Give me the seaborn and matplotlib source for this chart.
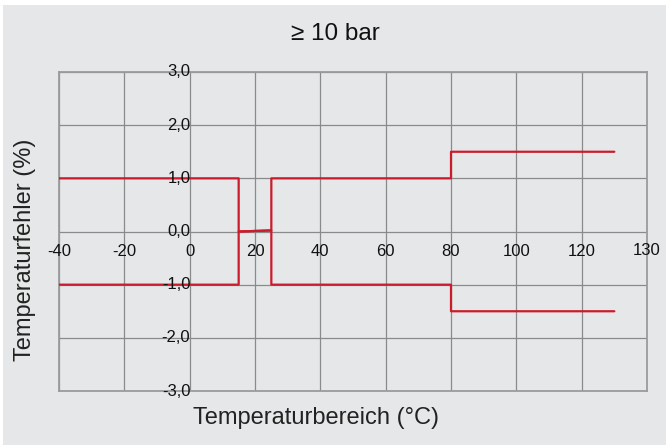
import pandas as pd
import matplotlib
matplotlib.use("Agg")
import matplotlib.pyplot as plt
import seaborn as sns
from matplotlib.patches import Rectangle

# Error band limits
temp_upper = [-40, 15, 15, 25, 25, 80, 80, 130]
err_upper = [1.0, 1.0, 0.0, 0.02, 1.0, 1.0, 1.5, 1.5]
temp_lower = [-40, 15, 15, 25, 25, 80, 80, 130]
err_lower = [-1.0, -1.0, 0.0, 0.02, -1.0, -1.0, -1.5, -1.5]

x_ticks = [-40, -20, 0, 20, 40, 60, 80, 100, 120, 140]
x_labels = ["-40", "-20", "0", "20", "40", "60", "80", "100", "120", "130"]
y_ticks = [-3, -2, -1, 0, 1, 2, 3]
y_labels = ["-3,0", "-2,0", "-1,0", "0,0", "1,0", "2,0", "3,0"]

bg = "#e6e7e8"
red = "#cc1b2c"
grid = "#8a8a8a"

sns.set_theme(style="white")
plt.rcParams["font.family"] = ["Liberation Sans", "DejaVu Sans"]

df = pd.concat([
    pd.DataFrame({"temp": temp_upper, "err": err_upper, "band": "upper"}),
    pd.DataFrame({"temp": temp_lower, "err": err_lower, "band": "lower"}),
])

fig = plt.figure(figsize=(6.66, 4.45), dpi=100, facecolor="white")
fig.patches.append(Rectangle((3 / 666, 0), 1, 1 - 5 / 445, transform=fig.transFigure,
                             facecolor=bg, edgecolor="none", zorder=-1))
ax = fig.add_axes([59 / 666, 1 - 391 / 445, 588 / 666, 319 / 445])
ax.set_facecolor(bg)

sns.lineplot(data=df, x="temp", y="err", hue="band", palette=[red, red],
             sort=False, estimator=None, legend=False, linewidth=1.6, ax=ax, zorder=3)

ax.set_xlim(-40, 140)
ax.set_ylim(-3, 3)
ax.set_xticks(x_ticks)
ax.set_yticks(y_ticks)
ax.set_xticklabels([])
ax.set_yticklabels([])
ax.tick_params(length=0)
ax.grid(True, color=grid, linewidth=0.9)
for s in ax.spines.values():
    s.set_color("#9b9b9b")
    s.set_linewidth(1.3)
ax.set_xlabel("")
ax.set_ylabel("")

# tick labels sit inside the plot, along the zero lines
for t, lab in zip(x_ticks, x_labels):
    dy = 0.03 if lab == "130" else 0
    ax.text(t, -0.38 + dy, lab, ha="center", va="center", fontsize=12,
            color="#111111", clip_on=False)
for t, lab in zip(y_ticks, y_labels):
    ax.text(0.2, t, lab, ha="right", va="center", fontsize=12,
            color="#111111", clip_on=False)

fig.text(335 / 666, 1 - 34 / 445, "≥ 10 bar", ha="center", va="center",
         fontsize=17.5, color="#111111")
fig.text(316 / 666, 1 - 418 / 445, "Temperaturbereich (°C)", ha="center",
         va="center", fontsize=17, color="#222222")
fig.text(25 / 666, 1 - 250 / 445, "Temperaturfehler (%)", ha="center",
         va="center", rotation=90, fontsize=17, color="#222222")

fig.savefig("out.png", dpi=100, facecolor="white")
